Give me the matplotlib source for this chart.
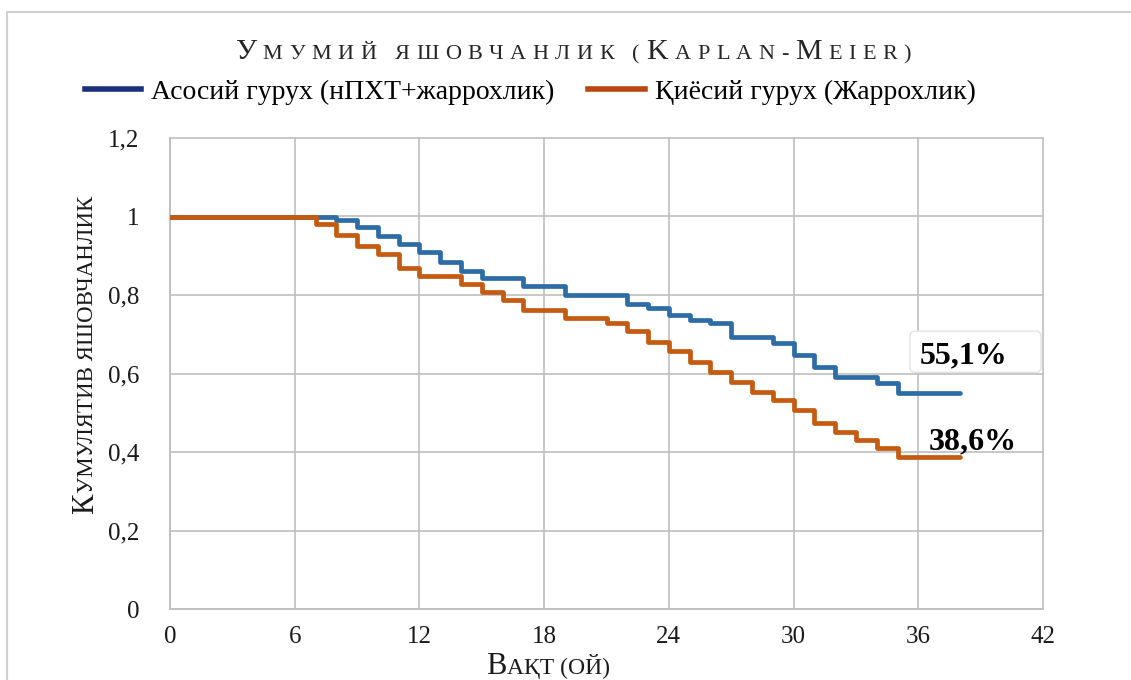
import matplotlib
matplotlib.use('Agg')
import matplotlib.pyplot as plt
from matplotlib.lines import Line2D
from matplotlib.patches import FancyBboxPatch, Rectangle
from matplotlib.transforms import IdentityTransform
from matplotlib.ticker import FuncFormatter, MultipleLocator

SERIF = ['Liberation Serif', 'DejaVu Serif']
plt.rcParams['font.family'] = SERIF

# ойлар ва кумулятив яшовчанлик (расмдан ўқилган)
main_t = [0, 8, 9, 10, 11, 12, 13, 14, 15, 17, 19, 22, 23, 24, 25, 26, 27, 29, 30, 31, 32, 34, 35, 38]
main_s = [1, 0.99, 0.973, 0.95, 0.93, 0.91, 0.884, 0.861, 0.843, 0.823, 0.80, 0.778, 0.767,
          0.749, 0.736, 0.728, 0.693, 0.677, 0.647, 0.617, 0.591, 0.575, 0.551, 0.551]
ctrl_t = [0, 7, 8, 9, 10, 11, 12, 14, 15, 16, 17, 19, 21, 22, 23, 24, 25, 26, 27, 28, 29, 30,
          31, 32, 33, 34, 35, 38]
ctrl_s = [1, 0.98, 0.953, 0.925, 0.904, 0.869, 0.849, 0.828, 0.808, 0.787, 0.762, 0.742, 0.729,
          0.708, 0.68, 0.657, 0.63, 0.604, 0.578, 0.553, 0.532, 0.507, 0.474, 0.45, 0.43, 0.41,
          0.386, 0.386]
names = ['Асосий гурух (нПХТ+жаррохлик)', 'Қиёсий гурух (Жаррохлик)']
end_labels = ['55,1%', '38,6%']

W, H = 1131, 680
fig = plt.figure(figsize=(W / 100, H / 100), dpi=100)
ax = fig.add_axes([170 / W, 1 - 609 / H, (1043 - 170) / W, (609 - 138) / H])

blue, orange = '#2E6CA6', '#C55A11'
ax.step(main_t, main_s, where='post', color=blue, lw=3.4, solid_capstyle='round', zorder=3)
ax.step(ctrl_t, ctrl_s, where='post', color=orange, lw=3.4, solid_capstyle='round', zorder=3)

ax.set_xlim(0, 42)
ax.set_ylim(0, 1.2)
ax.xaxis.set_major_locator(MultipleLocator(6))
ax.yaxis.set_major_locator(MultipleLocator(0.2))
ax.yaxis.set_major_formatter(FuncFormatter(lambda v, p: '{:g}'.format(round(v, 2)).replace('.', ',')))
ax.grid(True, color='#BFBFBF', lw=1.2, clip_on=False)
ax.set_axisbelow(True)
for s in ['top', 'right']:
    ax.spines[s].set_visible(False)
for s in ['left', 'bottom']:
    ax.spines[s].set_color('#BFBFBF')
    ax.spines[s].set_linewidth(1.2)
ax.tick_params(length=0, labelsize=18, colors='#1a1a1a')
ax.tick_params(axis='x', pad=12)
ax.tick_params(axis='y', pad=22)

# охирги қийматлар
box = FancyBboxPatch((35.6, 0.603), 6.3, 0.105, boxstyle='round,pad=0,rounding_size=0.25',
                     fc='white', ec='#E3E3E3', lw=1, zorder=2, mutation_aspect=0.05)
ax.add_patch(box)
ax.text(38.2, 0.645, end_labels[0], fontsize=23, fontweight='bold', ha='center', va='center', zorder=4)
ax.text(38.6, 0.425, end_labels[1], fontsize=23, fontweight='bold', ha='center', va='center', zorder=4)

# легенда
handles = [Line2D([], [], color='#1B2F7A', lw=4), Line2D([], [], color='#B9470F', lw=4)]
fig.legend(handles, names, loc='center', bbox_to_anchor=(530 / W, 1 - 92 / H), ncols=2,
           frameon=False, prop={'family': SERIF, 'size': 20}, handlelength=2.05,
           handletextpad=0.35, columnspacing=1.2)

# рамка
fig.add_artist(Rectangle((7 / W, -0.1), 1.2, 1 - 12 / H + 0.1, transform=fig.transFigure,
                         fill=False, ec='#D0D0D0', lw=1.5))


def small_caps(parts, x, y, rot=0, color='#262626', track=0):
    # кичик бош ҳарфлар: ҳар бир ҳарф алоҳида, орасига track пиксел
    r = fig.canvas.get_renderer()
    chars = []
    for s, sz in parts:
        if track:
            chars += [(c, sz) for c in s]
        else:
            chars.append((s, sz))
    objs = [fig.text(0, 0, s, fontsize=sz, transform=IdentityTransform(), ha='left',
                     va='baseline', rotation_mode='anchor', color=color) for s, sz in chars]
    widths = [t.get_window_extent(r).width + track for t in objs]
    pos = -(sum(widths) - track) / 2
    for t, w in zip(objs, widths):
        if rot:
            t.set_rotation(90)
            t.set_position((x, y + pos))
        else:
            t.set_position((x + pos, y))
        pos += w


small_caps([('У', 21.5), ('МУМИЙ ЯШОВЧАНЛИК (', 16), ('K', 21.5), ('APLAN-', 16),
            ('M', 21.5), ('EIER)', 16)], 573, H - 59, track=6.5)
small_caps([('К', 22), ('УМУЛЯТИВ ЯШОВЧАНЛИК', 16.5)], 93, H - 355, rot=90, color='#1a1a1a')
small_caps([('В', 22), ('АҚТ (ОЙ)', 17)], 548, H - 674, color='#1a1a1a')

fig.savefig('out.png', dpi=100)
